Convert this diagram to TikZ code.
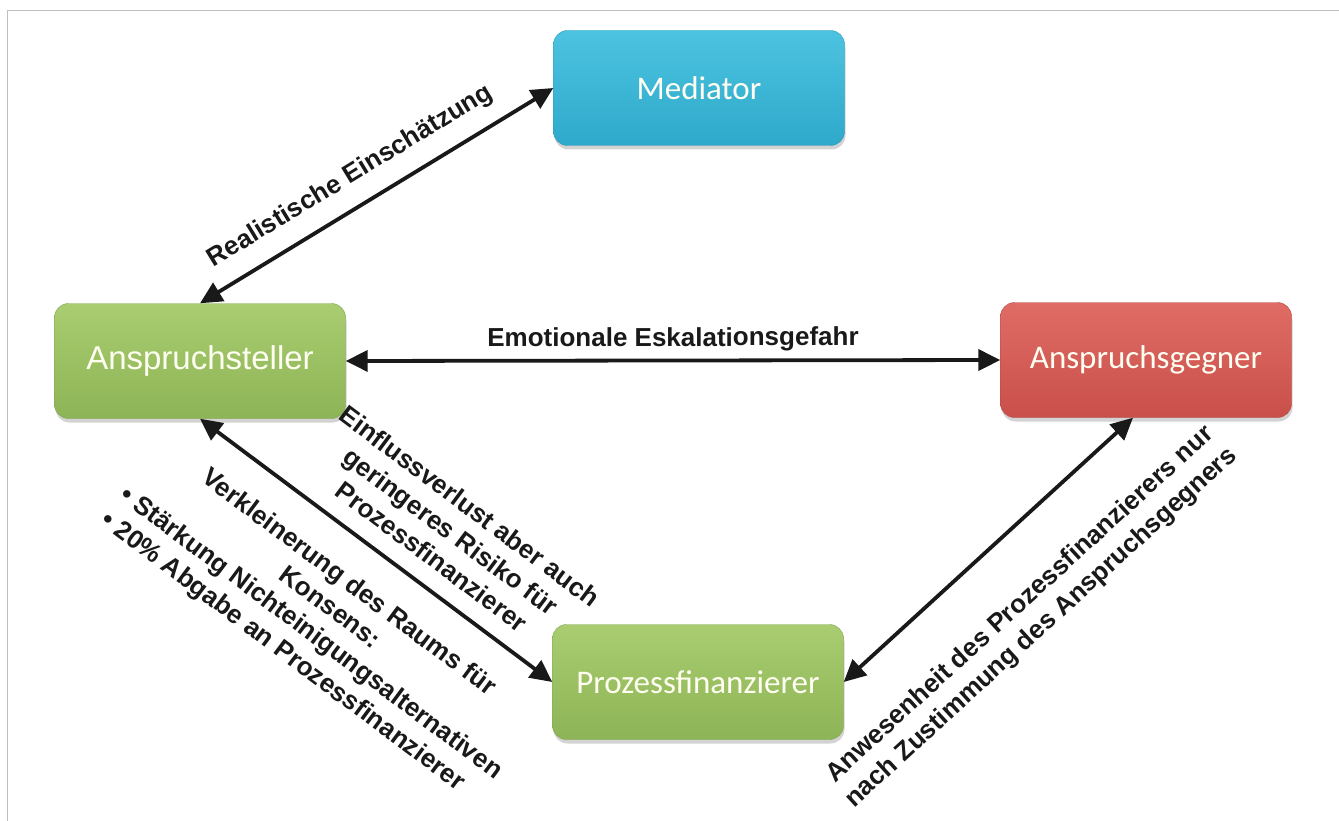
\documentclass[tikz,border=0pt]{standalone}
\usepackage{fontspec}
\setmainfont{Liberation Sans}
\newfontfamily\calfont{Carlito}
\usetikzlibrary{arrows.meta,shadows}
\definecolor{medtop}{HTML}{4CC3E0}
\definecolor{medbot}{HTML}{2FA9CB}
\definecolor{grntop}{HTML}{A9CD70}
\definecolor{grnbot}{HTML}{8DB456}
\definecolor{redtop}{HTML}{E06C66}
\definecolor{redbot}{HTML}{C94F4A}
\begin{document}
\begin{tikzpicture}[x=1pt, y=-1pt,
    box/.style={rectangle, rounded corners=14pt, minimum width=291pt, minimum height=115pt,
                inner sep=0pt, text=white!95!yellow, font=\calfont\fontsize{33}{40}\selectfont,
                drop shadow={opacity=0.35, shadow xshift=1pt, shadow yshift=-4pt}},
    grnbox/.style={box, top color=grntop, bottom color=grnbot, draw=grnbot!90!black},
    lbl/.style={font=\bfseries\fontsize{26}{31.5}\selectfont, align=center, inner sep=0pt, sloped},
    link/.style={line width=3.8pt, black!90,
                 arrows={Triangle[length=22pt,width=21pt]-Triangle[length=22pt,width=21pt]}}]
  \useasboundingbox (0,0) rectangle (1339,821);
  \draw[black!25, line width=1pt] (7.5,821) -- (7.5,11) -- (1339,11);
  \node[box, top color=medtop, bottom color=medbot, draw=medbot!90!black] (med) at (699,88) {Mediator};
  \node[grnbox, font=\rmfamily\fontsize{33}{40}\selectfont] (as) at (200,361) {Anspruchsteller};
  \node[box, top color=redtop, bottom color=redbot, draw=redbot!90!black] (ag) at (1146,360) {Anspruchsgegner};
  \node[grnbox] (pf) at (698,682) {Prozessfinanzierer};
  \draw[link] (as.north) -- node[lbl, above=16pt, pos=0.47] {Realistische Einschätzung} (med.west);
  \draw[link] (as.east) -- node[lbl, above=7pt] {Emotionale Eskalationsgefahr} (ag.west);
  \draw[link] (as.south) -- node[lbl, above=17pt, pos=0.61] {Einflussverlust aber auch\\geringeres Risiko für\\Prozessfinanzierer}
    node[lbl, below=29pt, pos=0.494] {Verkleinerung des Raums für\\Konsens:\\\begin{tabular}[t]{@{}l@{}}• Stärkung Nichteinigungsalternativen\\• 20\% Abgabe an Prozessfinanzierer\end{tabular}} (pf.west);
  \draw[link] (pf.east) -- node[lbl, below=48pt, pos=0.466] {Anwesenheit des Prozessfinanzierers nur\\nach Zustimmung des Anspruchsgegners} ([xshift=-13pt]ag.south);
\end{tikzpicture}
\end{document}
